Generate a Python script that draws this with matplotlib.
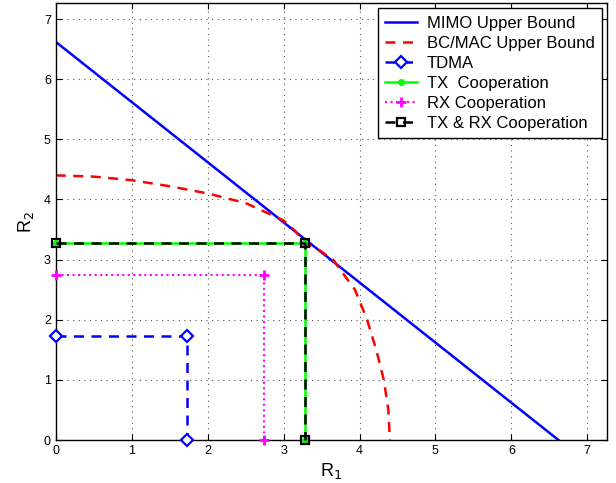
import numpy as np
import matplotlib.pyplot as plt

plt.rcParams['font.family'] = ['Liberation Sans', 'DejaVu Sans']

# MIMO upper bound (straight line)
mimo_r1 = [0, 6.62]
mimo_r2 = [6.62, 0]

# BC/MAC upper bound (symmetric in R1/R2)
bc_r1 = [0, 0.5, 1.0, 1.5, 2.0, 2.5, 3.0, 3.15, 3.28, 3.48, 3.65, 3.94, 4.1, 4.22, 4.32, 4.38, 4.4]
bc_r2 = [4.4, 4.38, 4.32, 4.22, 4.1, 3.94, 3.65, 3.48, 3.28, 3.15, 3.0, 2.5, 2.0, 1.5, 1.0, 0.5, 0]

# corner points of the achievable schemes
tdma = 1.73
rx_coop = 2.74
tx_coop = 3.28
txrx_coop = 3.28


def corner(v):
    return [0, v, v], [v, v, 0]


fig = plt.figure(figsize=(6.16, 4.83), dpi=100)
ax = fig.add_axes([0.0905, 0.089, 0.895, 0.904])

ax.plot(mimo_r1, mimo_r2, '-', color='#0000ff', lw=1.8, label='MIMO Upper Bound')
ax.plot(bc_r1, bc_r2, '--', color='#ff0000', lw=1.8, dashes=(4, 3),
        label='BC/MAC Upper Bound')
x, y = corner(tdma)
ax.plot(x, y, '--', color='#0000ff', lw=1.8, dashes=(4, 3), marker='D',
        ms=6, mfc='white', mew=1.6, label='TDMA', clip_on=False, zorder=3)
x, y = corner(tx_coop)
ax.plot(x, y, '-', color='#00ff00', lw=1.8, marker='o', ms=4,
        label='TX  Cooperation', clip_on=False, zorder=3)
x, y = corner(rx_coop)
ax.plot(x, y, ':', color='#ff00ff', lw=1.5, marker='+', ms=7, mew=2,
        label='RX Cooperation', clip_on=False, zorder=3)
x, y = corner(txrx_coop)
ax.plot(x, y, '--', color='black', lw=1.8, dashes=(4, 3), marker='s',
        ms=6, mfc='none', mew=1.6, label='TX & RX Cooperation',
        clip_on=False, zorder=3)

ax.set_xlim(0, 7.26)
ax.set_ylim(0, 7.26)
ax.set_xticks(range(8))
ax.set_yticks(range(8))
ax.grid(True, linestyle=(0, (1, 4)), color='#555555', lw=0.8)
ax.tick_params(direction='in', top=True, right=True, labelsize=9, length=4)
for s in ax.spines.values():
    s.set_linewidth(1.0)

ax.set_xlabel(r'R$_1$', fontsize=13, labelpad=3)
ax.set_ylabel(r'R$_2$', fontsize=13, labelpad=6)

leg = ax.legend(loc='upper right', fontsize=12, handlelength=1.9,
                borderaxespad=0.3, fancybox=False, framealpha=1,
                edgecolor='black', borderpad=0.45, labelspacing=0.3,
                handletextpad=0.6)
leg.get_frame().set_linewidth(1.0)
leg.set_zorder(5)

plt.savefig('out.png', dpi=100)
